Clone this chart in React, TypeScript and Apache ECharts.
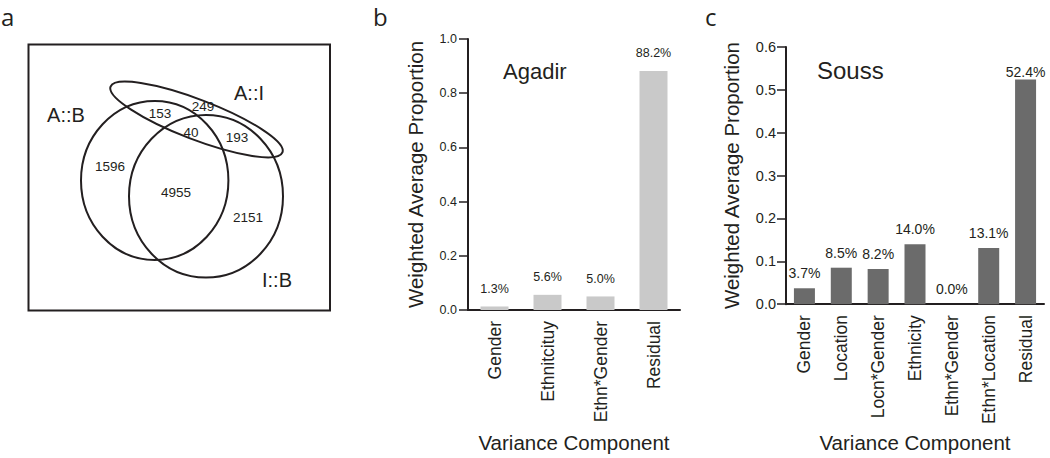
import React, { useEffect, useRef } from "react";
import * as echarts from "echarts";

// ---------- data ----------
const vennSetLabels = ["A::B", "A::I", "I::B"];
const vennCounts = ["153", "249", "40", "193", "1596", "4955", "2151"];

const agadirCategories = ["Gender", "Ethnitcituy", "Ethn*Gender", "Residual"];
const agadirValues = [0.013, 0.056, 0.05, 0.882];

const soussCategories = [
  "Gender",
  "Location",
  "Locn*Gender",
  "Ethnicity",
  "Ethn*Gender",
  "Ethn*Location",
  "Residual",
];
const soussValues = [0.037, 0.085, 0.082, 0.14, 0.0, 0.131, 0.524];

const panelLetters = ["a", "b", "c"];
const panelTitles = ["Agadir", "Souss"];
const yAxisTitle = "Weighted Average Proportion";
const xAxisTitle = "Variance Component";

// ---------- style ----------
const FONT = "'Liberation Sans', Arial, Helvetica, sans-serif";
const INK = "#231f20";

const pct = (p: any) => (Number(p.value) * 100).toFixed(1) + "%";

export default function App() {
  const ref = useRef<HTMLDivElement>(null);

  useEffect(() => {
    if (!ref.current) return;
    const chart = echarts.init(ref.current, null, { renderer: "svg" });

    const vennCountPos = [
      [160, 113],
      [203, 106],
      [191, 132],
      [237, 137],
      [110, 166],
      [176, 192],
      [248, 217],
    ];
    const vennLabelPos = [
      [66, 115],
      [249, 93],
      [277, 280],
    ];

    const graphics: any[] = [
      {
        type: "rect",
        shape: { x: 28.5, y: 44.5, width: 301.5, height: 266 },
        style: { fill: "none", stroke: INK, lineWidth: 2 },
      },
      {
        type: "ellipse",
        shape: { cx: 154.7, cy: 180.5, rx: 73.7, ry: 79.5 },
        style: { fill: "none", stroke: INK, lineWidth: 2 },
      },
      {
        type: "ellipse",
        shape: { cx: 206, cy: 196.3, rx: 77, ry: 81.3 },
        style: { fill: "none", stroke: INK, lineWidth: 2 },
      },
      {
        type: "ellipse",
        x: 196.5,
        y: 119.5,
        rotation: (-21 * Math.PI) / 180,
        shape: { cx: 0, cy: 0, rx: 92, ry: 20 },
        style: { fill: "none", stroke: INK, lineWidth: 2 },
      },
      ...vennSetLabels.map((t, i) => ({
        type: "text",
        x: vennLabelPos[i][0],
        y: vennLabelPos[i][1],
        style: {
          text: t,
          fill: INK,
          font: `20px ${FONT}`,
          textAlign: "center",
          textVerticalAlign: "middle",
        },
      })),
      ...vennCounts.map((t, i) => ({
        type: "text",
        x: vennCountPos[i][0],
        y: vennCountPos[i][1],
        style: {
          text: t,
          fill: INK,
          font: `13.5px ${FONT}`,
          textAlign: "center",
          textVerticalAlign: "middle",
        },
      })),
      ...panelLetters.map((t, i) => ({
        type: "text",
        x: [1, 373, 705][i],
        y: 16,
        style: {
          text: t,
          fill: INK,
          font: `24px 'Open Sans', sans-serif`,
          textAlign: "left",
          textVerticalAlign: "middle",
        },
      })),
    ];

    const yAxisCommon = (gridIndex: number, max: number, interval: number, fs: number, nameGap: number, margin: number) => ({
      type: "value",
      gridIndex,
      min: 0,
      max,
      interval,
      name: yAxisTitle,
      nameLocation: "middle",
      nameGap,
      nameTextStyle: { fontSize: 20.5, color: INK, fontFamily: FONT },
      axisLine: { show: true, lineStyle: { color: INK, width: 2 } },
      axisTick: { show: true, length: 9, lineStyle: { color: INK, width: 1.5 } },
      axisLabel: {
        fontSize: fs,
        color: INK,
        fontFamily: FONT,
        margin,
        formatter: (v: number) => v.toFixed(1),
      },
      splitLine: { show: false },
    });

    const xAxisCommon = (gridIndex: number, data: string[]) => ({
      type: "category",
      gridIndex,
      data,
      name: xAxisTitle,
      nameLocation: "middle",
      nameGap: 122,
      nameTextStyle: { fontSize: 20.5, color: INK, fontFamily: FONT, verticalAlign: "top" },
      axisLine: { show: true, lineStyle: { color: INK, width: 2 } },
      axisTick: { show: false },
      axisLabel: {
        rotate: 90,
        interval: 0,
        fontSize: 17.5,
        color: INK,
        fontFamily: FONT,
        margin: 11,
      },
    });

    chart.setOption({
      animation: false,
      backgroundColor: "#ffffff",
      textStyle: { fontFamily: FONT },
      title: [
        {
          text: panelTitles[0],
          left: 503,
          top: 60,
          padding: 0,
          textStyle: { fontSize: 22, fontWeight: "normal", color: INK, fontFamily: FONT },
        },
        {
          text: panelTitles[1],
          left: 817,
          top: 58,
          padding: 0,
          textStyle: { fontSize: 24, fontWeight: "normal", color: INK, fontFamily: FONT },
        },
      ],
      grid: [
        { left: 468, top: 39, width: 212, height: 272, containLabel: false },
        { left: 786, top: 47, width: 258, height: 262, containLabel: false },
      ],
      xAxis: [xAxisCommon(0, agadirCategories), xAxisCommon(1, soussCategories)],
      yAxis: [yAxisCommon(0, 1, 0.2, 12.5, 42, 11), yAxisCommon(1, 0.6, 0.1, 14.5, 44, 10)],
      series: [
        {
          type: "bar",
          xAxisIndex: 0,
          yAxisIndex: 0,
          data: agadirValues,
          barWidth: 28,
          itemStyle: { color: "#c9c9c9" },
          label: {
            show: true,
            position: "top",
            distance: 11,
            fontSize: 12.5,
            color: INK,
            fontFamily: FONT,
            formatter: pct,
          },
        },
        {
          type: "bar",
          xAxisIndex: 1,
          yAxisIndex: 1,
          data: soussValues.map((v, i) =>
            i === soussValues.length - 1 ? { value: v, label: { distance: 1 } } : v
          ),
          barWidth: 21,
          itemStyle: { color: "#6b6b6b" },
          label: {
            show: true,
            position: "top",
            distance: 8,
            fontSize: 14,
            color: INK,
            fontFamily: FONT,
            formatter: pct,
          },
        },
      ],
      graphic: graphics,
    });

    return () => chart.dispose();
  }, []);

  return (
    <div
      ref={ref}
      style={{ position: "fixed", left: 0, top: 0, width: 1050, height: 458, background: "#fff" }}
    />
  );
}
